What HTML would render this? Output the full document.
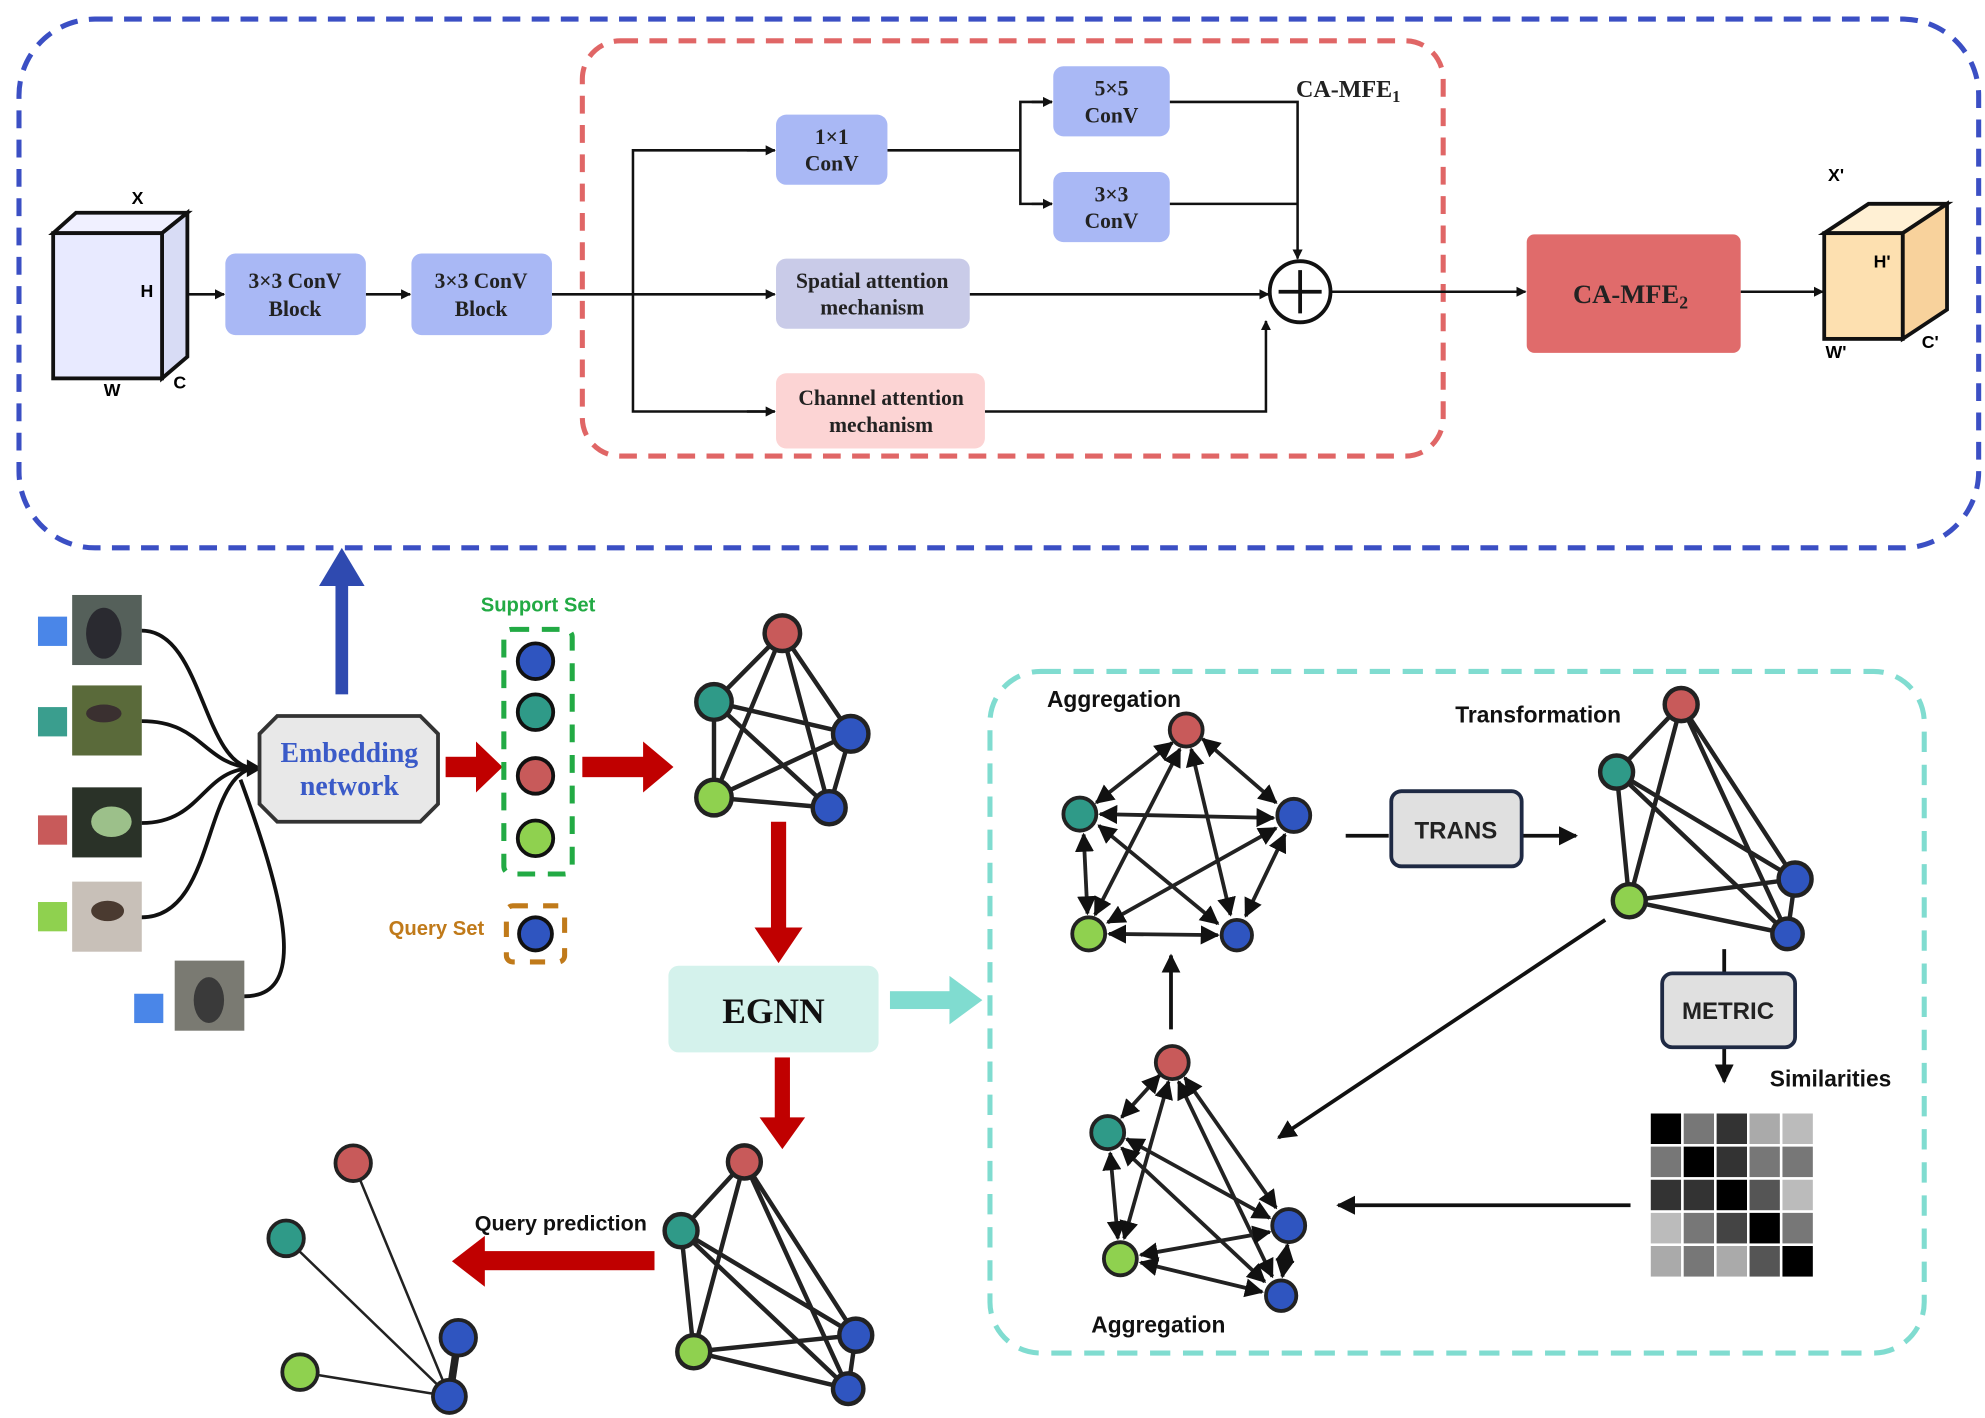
<!DOCTYPE html>
<html><head><meta charset="utf-8"><style>
html,body{margin:0;padding:0;background:#fff;}
svg{display:block;}
.s{font-family:"Liberation Serif",serif;font-weight:bold;}
.a{font-family:"Liberation Sans",sans-serif;font-weight:bold;}
</style></head><body>
<svg width="1985" height="1418" viewBox="0 0 1568 1113" preserveAspectRatio="none" xmlns="http://www.w3.org/2000/svg">
<defs>
<marker id="ar" viewBox="0 0 10 10" refX="9" refY="5" markerWidth="5" markerHeight="5" orient="auto-start-reverse"><path d="M0,0L10,5L0,10z" fill="#111"/></marker>
<marker id="ar2" viewBox="0 0 10 10" refX="9" refY="5" markerWidth="4" markerHeight="4" orient="auto-start-reverse"><path d="M0,0L10,5L0,10z" fill="#111"/></marker>
</defs>
<rect width="1568" height="1113" fill="#fff"/>
<!-- top boxes -->
<rect x="15" y="15" width="1548" height="415" rx="60" fill="none" stroke="#3b4fc4" stroke-width="4" stroke-dasharray="14,9"/>
<rect x="460" y="32" width="680" height="326" rx="30" fill="none" stroke="#e06666" stroke-width="4" stroke-dasharray="14,9"/>
<!-- left cube -->
<polygon points="42,183 60,167 148,167 128,183" fill="#f0f0ff" stroke="#111" stroke-width="3"/>
<polygon points="128,183 148,167 148,280 128,297" fill="#d8dcf5" stroke="#111" stroke-width="3"/>
<rect x="42" y="183" width="86" height="114" fill="#e8eaff" stroke="#111" stroke-width="3"/>
<text x="104" y="160" class="a" font-size="14">X</text>
<text x="111" y="233" class="a" font-size="14">H</text>
<text x="82" y="311" class="a" font-size="14">W</text>
<text x="137" y="305" class="a" font-size="14">C</text>
<g stroke="#111" stroke-width="2" fill="none">
<line x1="148" y1="231" x2="177" y2="231" marker-end="url(#ar2)"/>
<line x1="289" y1="231" x2="324" y2="231" marker-end="url(#ar2)"/>
<line x1="436" y1="231" x2="612" y2="231" marker-end="url(#ar2)"/>
<polyline points="612,118 500,118 500,323 612,323" />
<line x1="590" y1="118" x2="612" y2="118" marker-end="url(#ar2)"/>
<line x1="590" y1="323" x2="612" y2="323" marker-end="url(#ar2)"/>
<line x1="701" y1="118" x2="806" y2="118"/>
<polyline points="831,80 806,80 806,160 831,160"/>
<line x1="815" y1="80" x2="831" y2="80" marker-end="url(#ar2)"/>
<line x1="815" y1="160" x2="831" y2="160" marker-end="url(#ar2)"/>
<polyline points="924,80 1025,80 1025,203" marker-end="url(#ar2)"/>
<line x1="924" y1="160" x2="1025" y2="160"/>
<line x1="766" y1="231" x2="1002" y2="231" marker-end="url(#ar2)"/>
<polyline points="778,323 1000,323 1000,252" marker-end="url(#ar2)"/>
<line x1="1051" y1="229" x2="1205" y2="229" marker-end="url(#ar2)"/>
<line x1="1375" y1="229" x2="1440" y2="229" marker-end="url(#ar2)"/>
</g>
<circle cx="1027" cy="229" r="24" fill="#fff" stroke="#111" stroke-width="3"/>
<path d="M1010,229H1044M1027,212V246" stroke="#111" stroke-width="3"/>
<g class="s" font-size="17" text-anchor="middle" fill="#222">
<rect x="178" y="199" width="111" height="64" rx="8" fill="#a9b8f5"/>
<text x="233" y="226">3×3 ConV</text><text x="233" y="248">Block</text>
<rect x="325" y="199" width="111" height="64" rx="8" fill="#a9b8f5"/>
<text x="380" y="226">3×3 ConV</text><text x="380" y="248">Block</text>
<rect x="613" y="90" width="88" height="55" rx="8" fill="#a9b8f5"/>
<text x="657" y="113">1×1</text><text x="657" y="134">ConV</text>
<rect x="832" y="52" width="92" height="55" rx="8" fill="#a9b8f5"/>
<text x="878" y="75">5×5</text><text x="878" y="96">ConV</text>
<rect x="832" y="135" width="92" height="55" rx="8" fill="#a9b8f5"/>
<text x="878" y="158">3×3</text><text x="878" y="179">ConV</text>
<rect x="613" y="203" width="153" height="55" rx="8" fill="#c9cbe8"/>
<text x="689" y="226">Spatial attention</text><text x="689" y="247">mechanism</text>
<rect x="613" y="293" width="165" height="59" rx="8" fill="#fcd4d4"/>
<text x="696" y="318">Channel attention</text><text x="696" y="339">mechanism</text>
<text x="1065" y="76" font-size="19">CA-MFE<tspan font-size="13" dy="4">1</tspan></text>
<rect x="1206" y="184" width="169" height="93" rx="6" fill="#e06b6b"/>
<text x="1288" y="238" font-size="21">CA-MFE<tspan font-size="14" dy="4">2</tspan></text>
</g>
<!-- right cube -->
<polygon points="1441,183 1476,160 1538,160 1503,183" fill="#fff0d4" stroke="#111" stroke-width="3"/>
<polygon points="1503,183 1538,160 1538,243 1503,266" fill="#f8d29c" stroke="#111" stroke-width="3"/>
<rect x="1441" y="183" width="62" height="83" fill="#fde0b0" stroke="#111" stroke-width="3"/>
<text x="1444" y="142" class="a" font-size="14">X'</text>
<text x="1480" y="210" class="a" font-size="14">H'</text>
<text x="1442" y="281" class="a" font-size="14">W'</text>
<text x="1518" y="273" class="a" font-size="14">C'</text>
<!-- blue big arrow -->
<rect x="265" y="455" width="10" height="90" fill="#2f4ab0"/>
<polygon points="252,460 288,460 270,430" fill="#2f4ab0"/>
<!-- images -->
<g>
<rect x="30" y="484" width="23" height="23" fill="#4a86e8"/><rect x="57" y="467" width="55" height="55" fill="#55605a"/><ellipse cx="82" cy="497" rx="14" ry="20" fill="#2a2a30"/>
<rect x="30" y="555" width="23" height="23" fill="#3a9e8e"/><rect x="57" y="538" width="55" height="55" fill="#5a6a3a"/><ellipse cx="82" cy="560" rx="14" ry="7" fill="#3a3030"/>
<rect x="30" y="640" width="23" height="23" fill="#c85a5a"/><rect x="57" y="618" width="55" height="55" fill="#2a3228"/><ellipse cx="88" cy="645" rx="16" ry="12" fill="#9cc08a"/>
<rect x="30" y="708" width="23" height="23" fill="#8fd14f"/><rect x="57" y="692" width="55" height="55" fill="#c8c0b8"/><ellipse cx="85" cy="715" rx="13" ry="8" fill="#4a3a30"/>
<rect x="106" y="780" width="23" height="23" fill="#4a86e8"/><rect x="138" y="754" width="55" height="55" fill="#7a7a72"/><ellipse cx="165" cy="785" rx="12" ry="18" fill="#3a3a3a"/>
</g>
<g stroke="#111" stroke-width="3" fill="none">
<path d="M112,495 C160,495 160,600 200,603"/>
<path d="M112,566 C160,566 160,600 200,603"/>
<path d="M112,646 C160,646 160,603 200,603"/>
<path d="M112,720 C170,720 160,610 200,603"/>
<path d="M193,782 C240,782 230,720 190,612"/>
</g>
<polygon points="195,596 207,603 195,610" fill="#111"/>
<polygon points="219,562 332,562 346,576 346,631 332,645 219,645 205,631 205,576" fill="#e8e8e8" stroke="#333" stroke-width="3"/>
<text x="276" y="598" class="s" font-size="22" fill="#3a5ac8" text-anchor="middle">Embedding</text>
<text x="276" y="624" class="s" font-size="22" fill="#3a5ac8" text-anchor="middle">network</text>
<!-- red arrows -->
<g fill="#c00000">
<rect x="352" y="594" width="26" height="16"/><polygon points="376,582 397,602 376,622"/>
<rect x="460" y="594" width="50" height="16"/><polygon points="508,582 532,602 508,622"/>
<rect x="609" y="645" width="12" height="87"/><polygon points="596,728 634,728 615,756"/>
<rect x="612" y="830" width="12" height="50"/><polygon points="600,877 636,877 618,902"/>
<rect x="380" y="982" width="137" height="15"/><polygon points="383,970 357,990 383,1010"/>
</g>
<text x="425" y="480" class="a" font-size="16" fill="#22aa44" text-anchor="middle">Support Set</text>
<rect x="398" y="494" width="54" height="192" rx="6" fill="none" stroke="#22aa44" stroke-width="4" stroke-dasharray="14,10"/>
<text x="307" y="734" class="a" font-size="16" fill="#c07a1a">Query Set</text>
<rect x="400" y="711" width="46" height="44" rx="5" fill="none" stroke="#c07a1a" stroke-width="4" stroke-dasharray="12,12"/>
<g stroke="#111" stroke-width="3">
<circle cx="423" cy="519" r="14" fill="#2f55c0"/><circle cx="423" cy="559" r="14" fill="#2f9a88"/>
<circle cx="423" cy="609" r="14" fill="#c85a5a"/><circle cx="423" cy="658" r="14" fill="#8fd14f"/>
<circle cx="423" cy="733" r="13" fill="#2f55c0"/>
</g>
<!-- graph1 -->
<g stroke="#222" stroke-width="3.5">
<path d="M618,497L564,551M618,497L672,576M618,497L564,626M618,497L655,634M564,551L672,576M564,551L564,626M564,551L655,634M672,576L564,626M672,576L655,634M564,626L655,634"/>
<circle cx="618" cy="497" r="14" fill="#c85a5a"/><circle cx="564" cy="551" r="14" fill="#2f9a88"/>
<circle cx="672" cy="576" r="14" fill="#2f55c0"/><circle cx="564" cy="626" r="14" fill="#8fd14f"/><circle cx="655" cy="634" r="13" fill="#2f55c0"/>
</g>
<rect x="528" y="758" width="166" height="68" rx="8" fill="#d4f2ec"/>
<text x="611" y="803" class="s" font-size="28" text-anchor="middle" fill="#111">EGNN</text>
<rect x="703" y="778" width="50" height="14" fill="#80dcd0"/><polygon points="750,766 776,785 750,804" fill="#80dcd0"/>
<!-- graph bottom -->
<g stroke="#222" stroke-width="3.5">
<path d="M588,912L538,966M588,912L676,1048M588,912L548,1061M588,912L670,1090M538,966L676,1048M538,966L548,1061M538,966L670,1090M676,1048L548,1061M676,1048L670,1090M548,1061L670,1090"/>
<circle cx="588" cy="912" r="13" fill="#c85a5a"/><circle cx="538" cy="966" r="13" fill="#2f9a88"/>
<circle cx="676" cy="1048" r="13" fill="#2f55c0"/><circle cx="548" cy="1061" r="13" fill="#8fd14f"/><circle cx="670" cy="1090" r="12" fill="#2f55c0"/>
</g>
<text x="443" y="966" class="a" font-size="17" text-anchor="middle" fill="#111">Query prediction</text>
<!-- prediction -->
<g stroke="#222" stroke-width="2">
<path d="M279,913L355,1096M226,972L355,1096M237,1077L355,1096"/>
<path d="M362,1050L355,1096" stroke-width="6"/>
<circle cx="279" cy="913" r="14" fill="#c85a5a" stroke-width="3"/><circle cx="226" cy="972" r="14" fill="#2f9a88" stroke-width="3"/>
<circle cx="362" cy="1050" r="14" fill="#2f55c0" stroke-width="3"/><circle cx="237" cy="1077" r="14" fill="#8fd14f" stroke-width="3"/><circle cx="355" cy="1096" r="13" fill="#2f55c0" stroke-width="3"/>
</g>
<!-- teal box -->
<rect x="782" y="527" width="738" height="535" rx="40" fill="none" stroke="#80dcd0" stroke-width="4" stroke-dasharray="16,10"/>
<text x="880" y="555" class="a" font-size="18" text-anchor="middle" fill="#111">Aggregation</text>
<text x="1215" y="567" class="a" font-size="18" text-anchor="middle" fill="#111">Transformation</text>
<text x="915" y="1046" class="a" font-size="18" text-anchor="middle" fill="#111">Aggregation</text>
<text x="1446" y="853" class="a" font-size="18" text-anchor="middle" fill="#111">Similarities</text>
<!-- graph A -->
<g stroke="#222" stroke-width="3" marker-start="url(#ar)" marker-end="url(#ar)">
<line x1="926" y1="583" x2="866" y2="630"/><line x1="950" y1="580" x2="1008" y2="630"/>
<line x1="932" y1="588" x2="865" y2="718"/><line x1="941" y1="588" x2="972" y2="718"/>
<line x1="869" y1="639" x2="1006" y2="642"/><line x1="856" y1="655" x2="859" y2="717"/>
<line x1="868" y1="648" x2="962" y2="725"/><line x1="1008" y1="650" x2="875" y2="724"/>
<line x1="1015" y1="655" x2="984" y2="719"/><line x1="876" y1="733" x2="962" y2="734"/>
</g>
<g stroke="#222" stroke-width="3">
<circle cx="937" cy="573" r="13" fill="#c85a5a"/><circle cx="853" cy="639" r="13" fill="#2f9a88"/>
<circle cx="1022" cy="640" r="13" fill="#2f55c0"/><circle cx="860" cy="733" r="13" fill="#8fd14f"/><circle cx="977" cy="734" r="12" fill="#2f55c0"/>
</g>
<!-- graph B -->
<g stroke="#222" stroke-width="3" marker-start="url(#ar)" marker-end="url(#ar)">
<line x1="916" y1="844" x2="886" y2="877"/><line x1="936" y1="846" x2="1008" y2="948"/>
<line x1="923" y1="849" x2="888" y2="972"/><line x1="931" y1="849" x2="1005" y2="1002"/>
<line x1="890" y1="894" x2="1003" y2="956"/><line x1="877" y1="905" x2="883" y2="972"/>
<line x1="886" y1="901" x2="999" y2="1006"/><line x1="1003" y1="967" x2="901" y2="985"/>
<line x1="1017" y1="977" x2="1013" y2="1002"/><line x1="901" y1="991" x2="997" y2="1014"/>
</g>
<g stroke="#222" stroke-width="3">
<circle cx="926" cy="834" r="13" fill="#c85a5a"/><circle cx="875" cy="889" r="13" fill="#2f9a88"/>
<circle cx="1018" cy="962" r="13" fill="#2f55c0"/><circle cx="885" cy="988" r="13" fill="#8fd14f"/><circle cx="1012" cy="1017" r="12" fill="#2f55c0"/>
</g>
<!-- graph T -->
<g stroke="#222" stroke-width="3.5">
<path d="M1328,553L1277,606M1328,553L1418,690M1328,553L1287,707M1328,553L1412,733M1277,606L1418,690M1277,606L1287,707M1277,606L1412,733M1418,690L1287,707M1418,690L1412,733M1287,707L1412,733"/>
<circle cx="1328" cy="553" r="13" fill="#c85a5a"/><circle cx="1277" cy="606" r="13" fill="#2f9a88"/>
<circle cx="1418" cy="690" r="13" fill="#2f55c0"/><circle cx="1287" cy="707" r="13" fill="#8fd14f"/><circle cx="1412" cy="733" r="12" fill="#2f55c0"/>
</g>
<g stroke="#111" stroke-width="3" fill="none">
<line x1="1063" y1="656" x2="1097" y2="656"/>
<line x1="1202" y1="656" x2="1245" y2="656" marker-end="url(#ar)"/>
<line x1="1362" y1="745" x2="1362" y2="764"/>
<line x1="1362" y1="822" x2="1362" y2="849" marker-end="url(#ar)"/>
<line x1="1288" y1="946" x2="1057" y2="946" marker-end="url(#ar)"/>
<line x1="1268" y1="722" x2="1010" y2="893" marker-end="url(#ar)"/>
<line x1="925" y1="808" x2="925" y2="750" marker-end="url(#ar)"/>
</g>
<rect x="1099" y="621" width="103" height="59" rx="8" fill="#e0e0e0" stroke="#1f2a44" stroke-width="3"/>
<text x="1150" y="658" class="a" font-size="19" text-anchor="middle" fill="#222">TRANS</text>
<rect x="1313" y="764" width="105" height="58" rx="8" fill="#e0e0e0" stroke="#1f2a44" stroke-width="3"/>
<text x="1365" y="800" class="a" font-size="19" text-anchor="middle" fill="#222">METRIC</text>
<!-- matrix -->
<g stroke="#fff" stroke-width="2">
<rect x="1303" y="873" width="26" height="26" fill="#000"/><rect x="1329" y="873" width="26" height="26" fill="#777"/><rect x="1355" y="873" width="26" height="26" fill="#333"/><rect x="1381" y="873" width="26" height="26" fill="#aaa"/><rect x="1407" y="873" width="26" height="26" fill="#bbb"/>
<rect x="1303" y="899" width="26" height="26" fill="#777"/><rect x="1329" y="899" width="26" height="26" fill="#000"/><rect x="1355" y="899" width="26" height="26" fill="#333"/><rect x="1381" y="899" width="26" height="26" fill="#777"/><rect x="1407" y="899" width="26" height="26" fill="#777"/>
<rect x="1303" y="925" width="26" height="26" fill="#333"/><rect x="1329" y="925" width="26" height="26" fill="#333"/><rect x="1355" y="925" width="26" height="26" fill="#000"/><rect x="1381" y="925" width="26" height="26" fill="#555"/><rect x="1407" y="925" width="26" height="26" fill="#bbb"/>
<rect x="1303" y="951" width="26" height="26" fill="#bbb"/><rect x="1329" y="951" width="26" height="26" fill="#777"/><rect x="1355" y="951" width="26" height="26" fill="#444"/><rect x="1381" y="951" width="26" height="26" fill="#000"/><rect x="1407" y="951" width="26" height="26" fill="#777"/>
<rect x="1303" y="977" width="26" height="26" fill="#aaa"/><rect x="1329" y="977" width="26" height="26" fill="#777"/><rect x="1355" y="977" width="26" height="26" fill="#aaa"/><rect x="1381" y="977" width="26" height="26" fill="#555"/><rect x="1407" y="977" width="26" height="26" fill="#000"/>
</g>
</svg>
</body></html>
